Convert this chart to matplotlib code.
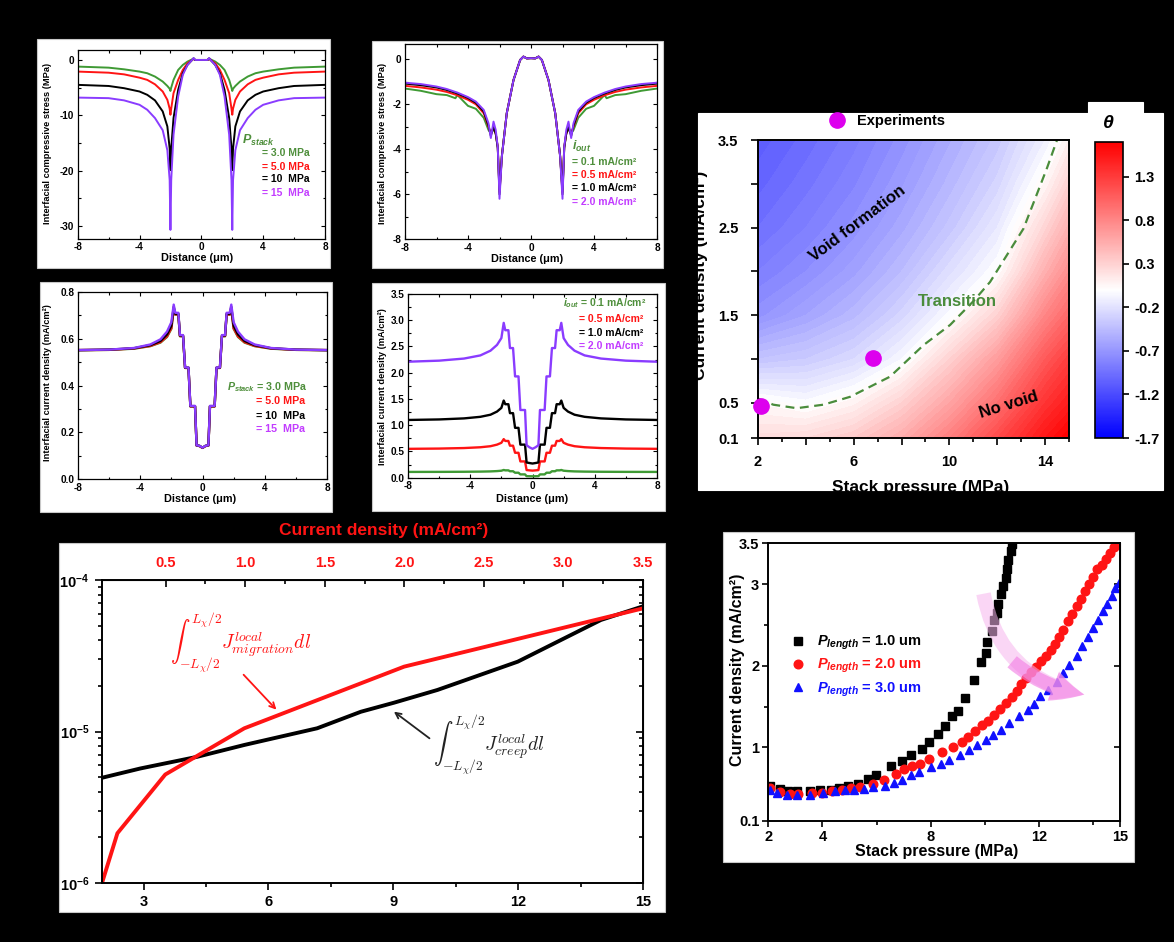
import numpy as np
import matplotlib
matplotlib.use('Agg')
import matplotlib.pyplot as plt
from matplotlib.patches import Rectangle, FancyArrowPatch
from matplotlib.colors import Normalize
from matplotlib.cm import ScalarMappable

plt.rcParams.update({
    'font.family': ['Liberation Sans', 'DejaVu Sans'],
    'font.weight': 'bold',
    'axes.labelweight': 'bold',
    'axes.unicode_minus': False,
    'mathtext.fontset': 'custom',
    'mathtext.rm': 'Liberation Sans:bold',
    'mathtext.bf': 'Liberation Sans:bold',
    'mathtext.it': 'Liberation Sans:italic:bold',
})

# ---------------- data ----------------
# (a) interfacial compressive stress (MPa) vs distance (um), half profile x<=0 (profile is symmetric)
a_dist = [-8, -6, -5, -4, -3.5, -3, -2.5, -2.2, -2.05, -2.0, -1.95, -1.8, -1.5, -1.2, -0.9, -0.6, -0.5, -0.4, 0]
a_p3 = [-1.2, -1.39, -1.69, -2.1, -2.4, -3.0, -3.9, -4.7, -5.2, -5.6, -5.0, -3.6, -1.8, -0.9, -0.3, 0.1, 0.3, 0.0, 0.0]
a_p5 = [-2.1, -2.3, -2.6, -3.2, -3.6, -4.4, -5.7, -7.2, -8.8, -9.9, -8.8, -6.0, -3.6, -1.8, -0.6, 0.0, 0.2, 0.0, 0.0]
a_p10 = [-4.5, -4.7, -5.1, -5.7, -6.3, -7.3, -9.3, -12.0, -16.0, -19.9, -16.0, -10.5, -5.4, -2.4, -0.9, 0.0, 0.25, 0.0, 0.0]
a_p15 = [-6.8, -6.9, -7.3, -8.1, -9.0, -10.5, -12.7, -16.3, -21.7, -30.7, -21.7, -13.5, -6.6, -2.7, -0.9, 0.0, 0.35, 0.0, 0.0]

# (b) interfacial compressive stress (MPa) vs distance for several current densities (half profile)
b_dist = [-8, -7, -6, -5.35, -4.8, -4.67, -4, -3.5, -3, -2.7, -2.55, -2.38, -2.24, -2.11, -2.0, -1.85, -1.54, -1.11, -0.69, -0.48, -0.27, 0]
b_i01 = [-1.3, -1.4, -1.55, -1.59, -1.73, -1.59, -2.07, -2.2, -2.6, -3.14, -3.3, -3.1, -3.3, -3.9, -5.8, -4.3, -2.4, -0.92, -0.03, 0.12, 0.04, 0.05]
b_i05 = [-1.18, -1.25, -1.35, -1.45, -1.57, -1.6, -1.8, -2.0, -2.4, -3.0, -3.3, -3.05, -3.3, -3.9, -5.9, -4.3, -2.4, -0.92, -0.03, 0.12, 0.04, 0.05]
b_i10 = [-1.08, -1.15, -1.25, -1.36, -1.49, -1.52, -1.72, -1.93, -2.32, -2.95, -3.4, -3.0, -3.3, -3.95, -6.0, -4.3, -2.4, -0.92, -0.03, 0.12, 0.04, 0.05]
b_i20 = [-1.04, -1.1, -1.21, -1.32, -1.45, -1.48, -1.68, -1.88, -2.25, -2.84, -3.5, -2.77, -3.14, -3.9, -6.2, -4.33, -2.4, -0.92, -0.03, 0.12, 0.04, 0.05]

# (c), (d) interfacial current density (mA/cm2) vs distance (half profile)
cd_dist = [-8, -6, -4.4, -3.35, -2.7, -2.28, -2.0, -1.85, -1.75, -1.55, -1.45, -1.25, -1.12, -0.9, -0.78, -0.48, -0.38, -0.2, 0]
c_p3 = [0.550, 0.552, 0.557, 0.568, 0.583, 0.607, 0.642, 0.725, 0.702, 0.702, 0.610, 0.610, 0.475, 0.475, 0.311, 0.311, 0.144, 0.142, 0.134]
c_p5 = [0.551, 0.552, 0.558, 0.569, 0.585, 0.610, 0.645, 0.728, 0.703, 0.703, 0.611, 0.611, 0.475, 0.475, 0.311, 0.311, 0.144, 0.142, 0.134]
c_p10 = [0.551, 0.553, 0.559, 0.572, 0.590, 0.618, 0.655, 0.735, 0.706, 0.706, 0.613, 0.613, 0.476, 0.476, 0.312, 0.312, 0.145, 0.143, 0.135]
c_p15 = [0.551, 0.553, 0.560, 0.575, 0.597, 0.630, 0.670, 0.745, 0.710, 0.710, 0.615, 0.615, 0.477, 0.477, 0.313, 0.313, 0.145, 0.143, 0.135]
d_i01 = [0.110, 0.111, 0.113, 0.116, 0.120, 0.126, 0.133, 0.147, 0.140, 0.140, 0.123, 0.123, 0.095, 0.095, 0.063, 0.063, 0.029, 0.028, 0.027]
d_i05 = [0.550, 0.555, 0.565, 0.580, 0.600, 0.630, 0.665, 0.735, 0.700, 0.700, 0.610, 0.610, 0.475, 0.475, 0.310, 0.310, 0.145, 0.140, 0.135]
d_i10 = [1.10, 1.11, 1.13, 1.16, 1.20, 1.26, 1.33, 1.47, 1.40, 1.40, 1.23, 1.23, 0.95, 0.95, 0.63, 0.63, 0.29, 0.28, 0.27]
d_i20 = [2.21, 2.23, 2.27, 2.33, 2.42, 2.53, 2.66, 2.95, 2.81, 2.81, 2.47, 2.47, 1.93, 1.93, 1.29, 1.29, 0.62, 0.58, 0.55]

# (e) theta map: rows = current density, cols = stack pressure
e_pressure = [2, 4, 6, 8, 10, 12, 14, 15]
e_current = [0.1, 0.5, 1.0, 1.5, 2.0, 2.5, 3.0, 3.5]
e_theta = [
    [0.22, 0.25, 0.35, 0.55, 0.85, 1.20, 1.55, 1.70],
    [0.04, -0.03, 0.08, 0.30, 0.60, 0.95, 1.35, 1.50],
    [-0.40, -0.35, -0.25, -0.05, 0.30, 0.65, 1.10, 1.28],
    [-0.72, -0.60, -0.47, -0.28, -0.03, 0.30, 0.80, 1.00],
    [-0.85, -0.75, -0.62, -0.45, -0.22, 0.00, 0.52, 0.75],
    [-0.95, -0.85, -0.73, -0.57, -0.38, -0.15, 0.28, 0.52],
    [-1.02, -0.92, -0.81, -0.66, -0.48, -0.28, 0.06, 0.30],
    [-1.08, -0.98, -0.87, -0.73, -0.56, -0.38, -0.10, 0.10],
]
e_bound_p = [2.0, 2.64, 3.62, 4.73, 5.85, 7.52, 8.92, 10.03, 11.0, 11.7, 13.1, 14.08, 14.5]
e_bound_c = [0.55, 0.48, 0.44, 0.48, 0.57, 0.80, 1.16, 1.39, 1.66, 1.88, 2.49, 3.18, 3.5]
e_exp_p = [2.13, 6.82]
e_exp_c = [0.46, 1.01]
e_cbar_ticks = [-1.7, -1.2, -0.7, -0.2, 0.3, 0.8, 1.3]

# (f) integrated fluxes vs stack pressure
f_press_mig = [2.0, 2.37, 3.52, 5.42, 9.26, 15.0]
f_flux_mig = [1.0e-6, 2.13e-6, 5.2e-6, 1.05e-5, 2.68e-5, 6.5e-5]
f_press_creep = [2.0, 2.92, 4.28, 5.42, 7.17, 8.22, 9.02, 10.06, 11.99, 13.03, 13.99, 15.0]
f_flux_creep = [4.95e-6, 5.7e-6, 6.8e-6, 8.15e-6, 1.05e-5, 1.35e-5, 1.55e-5, 1.88e-5, 2.89e-5, 4.02e-5, 5.45e-5, 6.7e-5]
f_top_ticks = [0.5, 1.0, 1.5, 2.0, 2.5, 3.0, 3.5]

# (g) critical current density vs stack pressure for several P_length
g_p1 = [2.06, 2.43, 2.74, 3.05, 3.54, 3.91, 4.30, 4.61, 4.96, 5.33, 5.70, 5.98, 6.52, 6.93, 7.27, 7.67, 7.94, 8.26, 8.53, 8.78,
        9.00, 9.27, 9.62, 9.86, 10.03, 10.10, 10.26, 10.35, 10.44, 10.50, 10.59, 10.66, 10.77, 10.84, 10.87, 10.96, 11.00]
g_c1 = [0.525, 0.496, 0.464, 0.464, 0.464, 0.476, 0.484, 0.504, 0.525, 0.558, 0.619, 0.660, 0.778, 0.839, 0.913, 0.986, 1.064, 1.166, 1.268, 1.383,
        1.452, 1.607, 1.832, 2.049, 2.159, 2.290, 2.424, 2.555, 2.649, 2.759, 2.874, 2.976, 3.070, 3.180, 3.290, 3.405, 3.495]
g_p2 = [2.06, 2.43, 2.80, 3.11, 3.60, 4.00, 4.34, 4.71, 5.06, 5.39, 5.88, 6.29, 6.71, 7.02, 7.30, 7.61, 7.94, 8.41, 8.81, 9.15,
        9.37, 9.64, 9.89, 10.11, 10.36, 10.58, 10.77, 11.00, 11.18, 11.33, 11.53, 11.70, 11.90, 12.08, 12.25, 12.44, 12.60, 12.75, 12.91, 13.07,
        13.24, 13.40, 13.55, 13.71, 13.85, 14.01, 14.16, 14.32, 14.47, 14.63, 14.79, 14.96]
g_c2 = [0.504, 0.455, 0.431, 0.431, 0.443, 0.443, 0.464, 0.484, 0.504, 0.513, 0.553, 0.607, 0.680, 0.737, 0.778, 0.803, 0.860, 0.942, 1.003, 1.068,
        1.129, 1.199, 1.272, 1.321, 1.403, 1.477, 1.546, 1.616, 1.697, 1.783, 1.852, 1.926, 1.98, 2.06, 2.12, 2.19, 2.27, 2.35, 2.44, 2.55,
        2.64, 2.73, 2.82, 2.91, 3.00, 3.09, 3.18, 3.24, 3.31, 3.38, 3.45, 3.50]
g_p3 = [2.06, 2.31, 2.68, 3.05, 3.54, 4.03, 4.46, 4.83, 5.18, 5.54, 5.88, 6.31, 6.65, 6.95, 7.26, 7.57, 8.00, 8.37, 8.69, 9.09,
        9.42, 9.73, 10.03, 10.32, 10.60, 10.91, 11.27, 11.61, 11.82, 12.04, 12.33, 12.66, 12.91, 13.12, 13.40, 13.58, 13.81, 13.99, 14.20, 14.38,
        14.51, 14.69, 14.82, 14.96]
g_c3 = [0.484, 0.443, 0.415, 0.423, 0.423, 0.443, 0.464, 0.476, 0.484, 0.496, 0.513, 0.533, 0.566, 0.607, 0.660, 0.696, 0.758, 0.799, 0.852, 0.913,
        0.966, 1.027, 1.089, 1.158, 1.219, 1.301, 1.383, 1.464, 1.538, 1.628, 1.709, 1.803, 1.914, 2.008, 2.118, 2.240, 2.355, 2.465, 2.567, 2.669,
        2.751, 2.853, 2.955, 3.02]

GREEN = '#3f9a34'
GREEN_T = '#4f8f3c'
RED = '#ff1414'
PURPLE = '#8a3cff'
PURPLE_T = '#c23cff'

# ---------------- figure ----------------
W, H = 1174, 942
fig = plt.figure(figsize=(W / 100, H / 100), dpi=100, facecolor='black')


def F(x, y):
    return (x / W, 1 - y / H)


def rect(x0, y0, x1, y1):
    return [x0 / W, 1 - y1 / H, (x1 - x0) / W, (y1 - y0) / H]


def white_box(x0, y0, x1, y1, edge='#c8c8c8'):
    fig.patches.append(Rectangle(F(x0, y1), (x1 - x0) / W, (y1 - y0) / H,
                                 transform=fig.transFigure, facecolor='white',
                                 edgecolor=edge if edge else 'white', lw=0.8, zorder=-5))


def ftext(x, y, s, **kw):
    kw.setdefault('va', 'center')
    kw.setdefault('ha', 'left')
    return fig.text(x / W, 1 - y / H, s, **kw)


def mirror(xh, yh):
    x = np.asarray(xh, float)
    y = np.asarray(yh, float)
    return np.concatenate([x, -x[-2::-1]]), np.concatenate([y, y[-2::-1]])


def small_axes(box, ax_px, ylim, yticks, yminor, ylabel, ylab_xy, xlab_xy):
    white_box(*box)
    ax = fig.add_axes(rect(*ax_px))
    ax.set_facecolor('white')
    ax.set_xlim(-8, 8)
    ax.set_ylim(*ylim)
    ax.set_xticks([-8, -4, 0, 4, 8])
    ax.set_xticks([-6, -2, 2, 6], minor=True)
    ax.set_yticks(yticks)
    ax.set_yticks(yminor, minor=True)
    ax.tick_params(which='both', direction='in', top=True, right=True,
                   labelsize=7.2, pad=2.5, width=0.8)
    ax.tick_params(which='major', length=3)
    ax.tick_params(which='minor', length=1.8)
    for s in ax.spines.values():
        s.set_linewidth(0.9)
    ax.set_xlabel('Distance (μm)', fontsize=7.8)
    ax.xaxis.set_label_coords(*xlab_xy)
    ax.set_ylabel(ylabel, fontsize=6.7)
    ax.yaxis.set_label_coords(*ylab_xy)
    return ax


# ---- (a)
axa = small_axes((37, 39, 330, 268), (77.7, 50, 325, 239), (-32.35, 1.8),
                 [-30, -20, -10, 0], [-25, -15, -5],
                 'Interfacial compressive stress (MPa)', (-0.104, 0.508), (0.481, -0.074))
for yv, col in [(a_p3, GREEN), (a_p5, RED), (a_p10, 'black'), (a_p15, PURPLE)]:
    xx, yy = mirror(a_dist, yv)
    axa.plot(xx, yy, color=col, lw=1.4)
ftext(242, 140, r'$\mathit{P}_{\mathit{stack}}$', color=GREEN_T, fontsize=9)
for yy, s, c in [(152.7, '= 3.0 MPa', GREEN_T), (166.7, '= 5.0 MPa', RED),
                 (179.3, '= 10  MPa', 'black'), (193.3, '= 15  MPa', PURPLE_T)]:
    ftext(262, yy, s, color=c, fontsize=7.5)

# ---- (b)
axb = small_axes((372, 41, 663, 268), (405, 44, 657, 239.3), (-8, 0.68),
                 [-8, -6, -4, -2, 0], [-7, -5, -3, -1],
                 'Interfacial compressive stress (MPa)', (-0.071, 0.49), (0.483, -0.075))
for yv, col in [(b_i01, GREEN), (b_i05, RED), (b_i10, 'black'), (b_i20, PURPLE)]:
    xx, yy = mirror(b_dist, yv)
    axb.plot(xx, yy, color=col, lw=1.4)
ftext(571.7, 146.7, r'$\mathit{i}_{\mathit{out}}$', color=GREEN_T, fontsize=9)
for yy, s, c in [(161.7, '= 0.1 mA/cm²', GREEN_T), (175, '= 0.5 mA/cm²', RED),
                 (188.3, '= 1.0 mA/cm²', 'black'), (201.7, '= 2.0 mA/cm²', PURPLE_T)]:
    ftext(571.7, yy, s, color=c, fontsize=7.5)

# ---- (c)
axc = small_axes((40, 282, 332, 512), (78, 291.7, 327, 479.3), (0, 0.8),
                 [0, 0.2, 0.4, 0.6, 0.8], [0.1, 0.3, 0.5, 0.7],
                 'Interfacial current density (mA/cm²)', (-0.104, 0.513), (0.49, -0.078))
for yv, col in [(c_p3, GREEN), (c_p5, RED), (c_p10, 'black'), (c_p15, PURPLE)]:
    xx, yy = mirror(cd_dist, yv)
    axc.plot(xx, yy, color=col, lw=1.7)
axc.yaxis.set_major_formatter(matplotlib.ticker.FormatStrFormatter('%.1f'))
ftext(226.7, 387.3, r'$\mathit{P}_{\mathit{stack}}$ = 3.0 MPa', color=GREEN_T, fontsize=7.7)
for yy, s, c in [(400.7, '= 5.0 MPa', RED), (415.7, '= 10  MPa', 'black'), (429.3, '= 15  MPa', PURPLE_T)]:
    ftext(256, yy, s, color=c, fontsize=7.7)

# ---- (d)
axd = small_axes((372, 283, 665, 511), (408, 294, 657, 477.7), (0, 3.5),
                 [0, 0.5, 1.0, 1.5, 2.0, 2.5, 3.0, 3.5], [0.25, 0.75, 1.25, 1.75, 2.25, 2.75, 3.25],
                 'Interfacial current density (mA/cm²)', (-0.084, 0.495), (0.497, -0.089))
for yv, col in [(d_i01, GREEN), (d_i05, RED), (d_i10, 'black'), (d_i20, PURPLE)]:
    xx, yy = mirror(cd_dist, yv)
    axd.plot(xx, yy, color=col, lw=1.7)
axd.yaxis.set_major_formatter(matplotlib.ticker.FormatStrFormatter('%.1f'))
ftext(646.7, 303.3, r'$\mathit{i}_{\mathit{out}}$ = 0.1 mA/cm²', color=GREEN_T, fontsize=7.5, ha='right')
for yy, s, c in [(319.3, '= 0.5 mA/cm²', RED), (332.7, '= 1.0 mA/cm²', 'black'), (346, '= 2.0 mA/cm²', PURPLE_T)]:
    ftext(579.3, yy, s, color=c, fontsize=7.5)

# ---- (e) theta map
white_box(698, 113, 1163, 490, edge=None)
white_box(1088, 102, 1143, 114, edge=None)
axe = fig.add_axes(rect(758, 140, 1069, 438))
norm = Normalize(-1.7, 1.7)
axe.contourf(e_pressure, e_current, np.array(e_theta), levels=np.linspace(-1.75, 1.75, 71),
             cmap='bwr', norm=norm)
axe.plot(e_bound_p, e_bound_c, ls=(0, (4, 2.5)), color='#4a8c3c', lw=1.6)
exp_h, = axe.plot(e_exp_p, e_exp_c, 'o', color='#dd00ee', ms=11, clip_on=False, zorder=5, label='Experiments')
axe.set_xlim(2, 15)
axe.set_ylim(0.1, 3.5)
axe.set_xticks([2, 4, 6, 8, 10, 12, 14])
axe.set_xticklabels(['2', '', '6', '', '10', '', '14'])
axe.set_xticks([3, 5, 7, 9, 11, 13, 15], minor=True)
axe.set_yticks([0.1, 0.5, 1.0, 1.5, 2.0, 2.5, 3.0, 3.5])
axe.set_yticklabels(['0.1', '0.5', '', '1.5', '', '2.5', '', '3.5'])
axe.tick_params(which='both', direction='out', labelsize=10.5, width=1.2)
axe.tick_params(which='major', length=5, pad=9)
axe.tick_params(which='minor', length=3)
axe.tick_params(axis='x', which='major', pad=7)
for s in axe.spines.values():
    s.set_linewidth(1.4)
axe.set_xlabel('Stack pressure (MPa)', fontsize=12.5)
axe.xaxis.set_label_coords(0.523, -0.142)
axe.set_ylabel('Current density (mA/cm²)', fontsize=12.5)
axe.yaxis.set_label_coords(-0.16, 0.547)
axe.text(0.32, 0.72, 'Void formation', transform=axe.transAxes, rotation=37, fontsize=12,
         ha='center', va='center')
axe.text(0.64, 0.458, 'Transition', transform=axe.transAxes, fontsize=12, color='#4a8c3c',
         ha='center', va='center')
axe.text(0.805, 0.11, 'No void', transform=axe.transAxes, rotation=17, fontsize=12,
         ha='center', va='center')
axe.legend(handles=[exp_h], loc='center left', bbox_to_anchor=F(829.7, 121),
           bbox_transform=fig.transFigure, frameon=False, handlelength=1.0,
           handletextpad=0.9, borderpad=0, borderaxespad=0, prop=dict(size=10.5, weight='bold'))

cax = fig.add_axes(rect(1095, 142, 1123, 438))
cb = fig.colorbar(ScalarMappable(norm=norm, cmap='bwr'), cax=cax, ticks=e_cbar_ticks)
cb.ax.set_yticklabels(['%.1f' % t for t in e_cbar_ticks])
cb.ax.tick_params(labelsize=10.5, length=4, width=1.2, pad=4)
cb.outline.set_linewidth(1.2)
ftext(1108, 123, 'θ', ha='center', fontsize=14, style='italic')

# ---- (f) fluxes
white_box(59, 543, 665, 912)
axf = fig.add_axes(rect(102, 580, 643, 883))
axf.plot(f_press_creep, f_flux_creep, color='black', lw=2.8)
axf.plot(f_press_mig, f_flux_mig, color=RED, lw=2.8)
axf.set_yscale('log')
axf.set_ylim(1e-6, 1e-4)
axf.set_xlim(2, 15)
axf.set_xticks([3, 6, 9, 12, 15])
axf.set_xticks([4.5, 7.5, 10.5, 13.5], minor=True)
axf.set_yticks([1e-6, 1e-5, 1e-4])
axf.set_yticklabels([r'$\mathbf{10^{-6}}$', r'$\mathbf{10^{-5}}$', r'$\mathbf{10^{-4}}$'])
axf.tick_params(which='both', direction='out', labelsize=10.5, width=1.2)
axf.tick_params(which='major', length=5, pad=4)
axf.tick_params(which='minor', length=3)
for s in axf.spines.values():
    s.set_linewidth(1.4)
secr = axf.secondary_yaxis('right')
secr.tick_params(which='both', direction='in', labelright=False, width=1.2)
secr.tick_params(which='major', length=5)
secr.tick_params(which='minor', length=3)
secr.set_yticks([1e-6, 1e-5, 1e-4])
secr.set_yticklabels(['', '', ''])


def p2c(p):
    return 0.1 + (np.asarray(p) - 2.0) * 3.4 / 13.0


def c2p(c):
    return 2.0 + (np.asarray(c) - 0.1) * 13.0 / 3.4


sect = axf.secondary_xaxis('top', functions=(p2c, c2p))
sect.set_xticks(f_top_ticks)
sect.set_xticks([0.75, 1.25, 1.75, 2.25, 2.75, 3.25], minor=True)
sect.xaxis.set_major_formatter(matplotlib.ticker.FormatStrFormatter('%.1f'))
sect.tick_params(which='both', direction='in', labelcolor=RED, labelsize=10.5, width=1.2, pad=7)
sect.tick_params(which='major', length=5)
sect.tick_params(which='minor', length=3)
ftext(384, 531, 'Current density (mA/cm²)', color=RED, fontsize=12.5, ha='center')

ftext(241, 643, r'$\int_{-L_{\chi}/2}^{L_{\chi}/2}J_{migration}^{local}dl$', color=RED,
      fontsize=14, ha='center', math_fontfamily='cm', fontweight='normal')
ftext(489, 745, r'$\int_{-L_{\chi}/2}^{L_{\chi}/2}J_{creep}^{local}dl$', color='#222222',
      fontsize=14, ha='center', math_fontfamily='cm', fontweight='normal')
axf.annotate('', xy=F(278.3, 711.7), xytext=F(241.7, 672.7), xycoords='figure fraction',
             textcoords='figure fraction', arrowprops=dict(arrowstyle='->', color=RED, lw=1.3))
axf.annotate('', xy=F(391.7, 710), xytext=F(431.7, 740), xycoords='figure fraction',
             textcoords='figure fraction', arrowprops=dict(arrowstyle='->', color='#222222', lw=1.3))

# ---- (g) critical current density
white_box(723, 532, 1134, 862)
axg = fig.add_axes(rect(768.3, 543.3, 1120, 821))
h1, = axg.plot(g_p1, g_c1, 's', color='black', ms=5.8, ls='none', label=r'$\mathit{P}_{\mathit{length}}$ = 1.0 um')
h2, = axg.plot(g_p2, g_c2, 'o', color=RED, ms=6.2, ls='none', label=r'$\mathit{P}_{\mathit{length}}$ = 2.0 um')
h3, = axg.plot(g_p3, g_c3, '^', color='#1010ff', ms=6.2, ls='none', label=r'$\mathit{P}_{\mathit{length}}$ = 3.0 um')
axg.set_xlim(2, 15)
axg.set_ylim(0.1, 3.5)
axg.set_xticks([2, 4, 8, 12, 15])
axg.set_xticks([6, 10, 14], minor=True)
axg.set_yticks([0.1, 1, 2, 3, 3.5])
axg.set_yticklabels(['0.1', '1', '2', '3', '3.5'])
axg.set_yticks([1.5, 2.5], minor=True)
axg.tick_params(which='both', direction='out', labelsize=10.5, width=1.2)
axg.tick_params(which='major', length=4, pad=2.5)
axg.tick_params(which='minor', length=3)
for s in axg.spines.values():
    s.set_linewidth(1.4)
secg = axg.secondary_yaxis('right')
secg.set_yticks([1, 2, 3])
secg.set_yticklabels(['', '', ''])
secg.tick_params(direction='in', length=4, width=1.2)
axg.set_xlabel('Stack pressure (MPa)', fontsize=11.5)
axg.xaxis.set_label_coords(0.48, -0.082)
axg.set_ylabel('Current density (mA/cm²)', fontsize=11.5)
axg.yaxis.set_label_coords(-0.066, 0.544)
leg = axg.legend(handles=[h1, h2, h3], loc='center left', bbox_to_anchor=F(790.7, 666.3),
                 bbox_transform=fig.transFigure, frameon=False, handlelength=1.0,
                 handletextpad=0.8, borderpad=0, borderaxespad=0, labelspacing=0.35,
                 prop=dict(size=10.5, weight='bold'))
for txt, c in zip(leg.get_texts(), ['black', RED, '#1010ff']):
    txt.set_color(c)
arrow_tail = FancyArrowPatch(F(983, 591), F(1087, 695), transform=fig.transFigure,
                             connectionstyle='arc3,rad=0.35',
                             arrowstyle='simple,head_width=2.2,head_length=2.3,tail_width=1.05',
                             mutation_scale=10, color='#f7b5ee', alpha=0.55, lw=0, zorder=6)
fig.add_artist(arrow_tail)
arrow_head = FancyArrowPatch(F(1010, 660), F(1087, 695), transform=fig.transFigure,
                             connectionstyle='arc3,rad=0.15',
                             arrowstyle='simple,head_width=2.2,head_length=2.3,tail_width=1.05',
                             mutation_scale=10, color='#f27be3', alpha=0.6, lw=0, zorder=7)
fig.add_artist(arrow_head)

fig.savefig('out.png', dpi=100, facecolor='black')
